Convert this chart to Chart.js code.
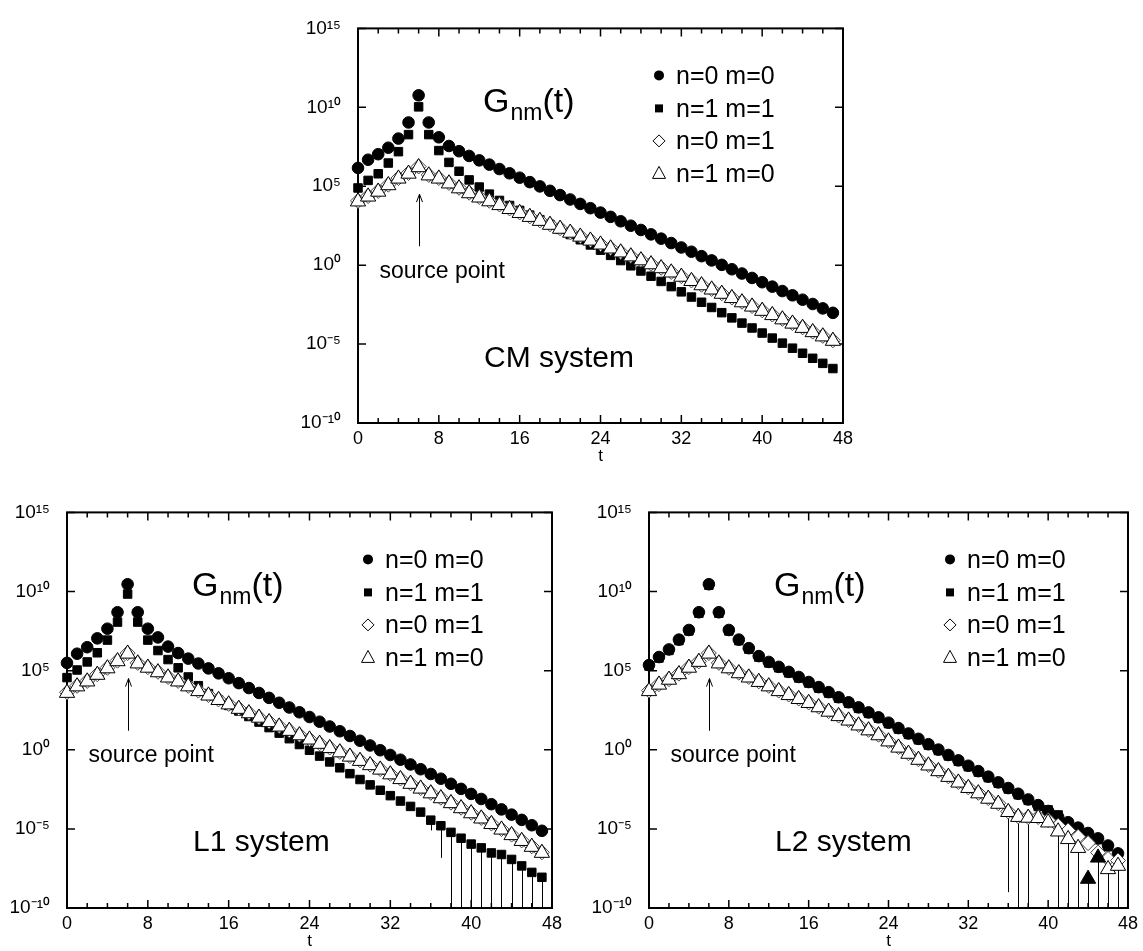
<!DOCTYPE html>
<html lang="en">
  <head>
    <meta charset="UTF-8" />
    <title>G_nm(t) in CM, L1 and L2 systems</title>
    <style>
      body {
        margin: 0;
        background: #fff;
        overflow: hidden;
      }
      #wrap {
        position: relative;
        width: 1143px;
        height: 951px;
      }
      canvas {
        position: absolute;
      }
    </style>
  </head>
  <body>
    <div id="wrap">
      <canvas id="cm" width="580" height="470" style="left: 288px; top: 0px"></canvas>
      <canvas id="l1" width="577" height="471" style="left: 0px; top: 484px"></canvas>
      <canvas id="l2" width="564" height="471" style="left: 579px; top: 484px"></canvas>
    </div>

    <script src="https://cdn.jsdelivr.net/npm/chart.js"></script>
    <script>
      // time slices
      const t = [
        0, 1, 2, 3, 4, 5, 6, 7, 8, 9, 10, 11, 12, 13, 14, 15, 16, 17, 18, 19, 20, 21, 22, 23,
        24, 25, 26, 27, 28, 29, 30, 31, 32, 33, 34, 35, 36, 37, 38, 39, 40, 41, 42, 43, 44, 45, 46, 47,
      ];
      const xLabelled = [0, 8, 16, 24, 32, 40, 48];
      const yTicks = [-10, -5, 0, 5, 10, 15];
      const yTickLabels = ["10⁻¹⁰", "10⁻⁵", "10⁰", "10⁵", "10¹⁰", "10¹⁵"];
      const seriesLabels = ["n=0 m=0", "n=1 m=1", "n=0 m=1", "n=1 m=0"];

      // all values are log10 G_nm(t)

      // CM system
      const cm00 = [
        6.16, 6.68, 7.03, 7.44, 8.02, 9.04, 10.76, 9.04, 8.1, 7.55, 7.22, 6.92,
        6.64, 6.37, 6.09, 5.82, 5.54, 5.26, 4.99, 4.71, 4.44, 4.16,
        3.88, 3.61, 3.33, 3.06, 2.78, 2.5, 2.23, 1.95, 1.68, 1.4,
        1.12, 0.85, 0.57, 0.3, 0.02, -0.26, -0.53, -0.81, -1.08, -1.36,
        -1.64, -1.91, -2.19, -2.46, -2.74, -3.02,
      ];
      const cm11 = [
        4.89, 5.37, 5.79, 6.47, 7.19, 8.27, 10.03, 8.27, 7.26, 6.51,
        5.95, 5.4, 4.95, 4.5, 4.1, 3.78, 3.47, 3.17, 2.88, 2.58,
        2.27, 1.94, 1.61, 1.28, 0.95, 0.62, 0.29, -0.04, -0.37, -0.7,
        -1.03, -1.36, -1.69, -2.02, -2.35, -2.68, -3.01, -3.34, -3.67, -3.98,
        -4.3, -4.62, -4.94, -5.26, -5.58, -5.9, -6.22, -6.55,
      ];
      const cm01 = [
        4.07, 4.38, 4.7, 5.1, 5.52, 5.84, 6.25, 5.72, 5.52, 5.21, 4.9, 4.59,
        4.32, 4.08, 3.84, 3.59, 3.34, 3.09, 2.84, 2.59, 2.34, 2.09,
        1.84, 1.59, 1.34, 1.09, 0.84, 0.59, 0.34, 0.09, -0.16, -0.43,
        -0.7, -0.97, -1.24, -1.51, -1.78, -2.05, -2.32, -2.59, -2.86, -3.13,
        -3.4, -3.67, -3.94, -4.21, -4.48, -4.76,
      ];
      const cm10 = [
        4.03, 4.34, 4.65, 5.06, 5.48, 5.79, 6.2, 5.68, 5.48, 5.17, 4.86, 4.55,
        4.28, 4.04, 3.8, 3.55, 3.3, 3.05, 2.8, 2.55, 2.3, 2.05,
        1.8, 1.55, 1.3, 1.05, 0.8, 0.55, 0.3, 0.05, -0.2, -0.47,
        -0.74, -1.01, -1.28, -1.55, -1.82, -2.09, -2.36, -2.63, -2.9, -3.17,
        -3.44, -3.71, -3.98, -4.25, -4.52, -4.8,
      ];

      // L1 system
      const l100 = [
        5.49, 6.07, 6.48, 7.04, 7.65, 8.69, 10.46, 8.69, 7.65, 7.1, 6.52, 6.11, 5.76,
        5.45, 5.14, 4.83, 4.52, 4.21, 3.9, 3.59, 3.28, 2.97, 2.67,
        2.37, 2.07, 1.77, 1.47, 1.17, 0.87, 0.57, 0.27, -0.03, -0.33,
        -0.63, -0.93, -1.23, -1.53, -1.83, -2.15, -2.47, -2.79, -3.11, -3.44,
        -3.77, -4.1, -4.43, -4.77, -5.12,
      ];
      const l111 = [
        4.56, 5.04, 5.55, 6.13, 6.93, 8.07, 9.84, 8.07, 6.93, 6.27, 5.7, 5.18,
        4.6, 4.05, 3.55, 3.15, 2.8, 2.45, 2.1, 1.75, 1.4, 1.05,
        0.7, 0.33, -0.03, -0.4, -0.77, -1.14, -1.51, -1.88, -2.22, -2.56,
        -2.9, -3.24, -3.58, -3.94, -4.45, -4.8, -5.22, -5.59, -5.96, -6.2,
        -6.52, -6.62, -6.93, -7.34, -7.75, -8.06,
      ];
      const l101 = [
        3.63, 4.04, 4.35, 4.77, 5.18, 5.63, 6.11, 5.49, 5.22, 4.93, 4.6, 4.35, 4.04,
        3.74, 3.46, 3.18, 2.9, 2.62, 2.34, 2.06, 1.78, 1.5, 1.23,
        0.95, 0.68, 0.41, 0.14, -0.13, -0.4, -0.67, -0.94, -1.22, -1.52,
        -1.82, -2.12, -2.42, -2.72, -3.03, -3.34, -3.66, -3.98, -4.31, -4.66,
        -5.01, -5.36, -5.73, -6.1, -6.48,
      ];
      const l110 = [
        3.59, 4.0, 4.31, 4.73, 5.14, 5.59, 6.07, 5.45, 5.18, 4.89, 4.56, 4.31, 4.0,
        3.7, 3.42, 3.14, 2.86, 2.58, 2.3, 2.02, 1.74, 1.46, 1.19,
        0.91, 0.64, 0.37, 0.1, -0.17, -0.44, -0.71, -0.98, -1.26, -1.56,
        -1.86, -2.16, -2.46, -2.76, -3.07, -3.38, -3.7, -4.02, -4.35, -4.7,
        -5.05, -5.4, -5.77, -6.14, -6.52,
      ];
      // lower ends of the n=1 m=1 error bars (-Infinity: the bar passes zero)
      const l1ErrT = [36, 37, 38, 39, 40, 41, 42, 43, 44, 45, 46, 47];
      const l1ErrLo = [-5.1, -6.83, -Infinity, -Infinity, -Infinity, -Infinity,
        -Infinity, -Infinity, -Infinity, -Infinity, -Infinity, -Infinity];

      // L2 system
      const l200 = [
        5.35, 5.86, 6.34, 6.96, 7.57, 8.69, 10.46, 8.69, 7.57, 6.96, 6.42, 5.92, 5.55, 5.24,
        4.92, 4.6, 4.28, 3.96, 3.64, 3.32, 3.0, 2.68, 2.36, 2.05,
        1.71, 1.37, 1.03, 0.69, 0.35, 0.01, -0.33, -0.67, -1.01, -1.35,
        -1.7, -2.06, -2.42, -2.78, -3.14, -3.5, -3.87, -4.24, -4.58, -4.92,
        -5.26, -5.6, -6.05, -6.55,
      ];
      const l211 = [
        5.29, 5.8, 6.28, 6.9, 7.51, 8.63, 10.4, 8.63, 7.51, 6.9, 6.36, 5.86, 5.49, 5.18,
        4.86, 4.54, 4.22, 3.9, 3.58, 3.26, 2.94, 2.62, 2.3, 1.99,
        1.65, 1.31, 0.97, 0.63, 0.29, -0.05, -0.39, -0.73, -1.07, -1.41,
        -1.76, -2.12, -2.48, -2.84, -3.2, -3.58, -3.8, -4.12, -4.62, -4.98,
        -5.33, -5.68, -6.12, -6.63,
      ];
      const l201 = [
        3.74, 4.15, 4.46, 4.81, 5.22, 5.59, 6.11, 5.49, 5.18, 4.87, 4.6, 4.32, 4.04, 3.74,
        3.49, 3.24, 2.99, 2.72, 2.44, 2.16, 1.88, 1.57, 1.26, 0.95,
        0.56, 0.17, -0.22, -0.6, -0.96, -1.32, -1.68, -2.04, -2.38, -2.72,
        -3.06, -3.38, -3.9, -4.21, -4.26, -4.25, -4.45, -4.8, -5.1, -5.5,
        -5.9, -6.5, -6.9, -7.0,
      ];
      const l210 = [
        3.7, 4.11, 4.42, 4.77, 5.18, 5.55, 6.07, 5.45, 5.14, 4.83, 4.56, 4.28, 4.0, 3.7,
        3.45, 3.2, 2.95, 2.68, 2.4, 2.12, 1.84, 1.53, 1.22, 0.91,
        0.52, 0.13, -0.26, -0.64, -1.0, -1.36, -1.72, -2.08, -2.42, -2.76,
        -3.1, -3.42, -3.94, -4.25, -4.3, -4.32, -4.6, -5.17, -5.65, -6.21,
        null, null, -7.55, -7.34,
      ];
      // n=1 m=0 points with negative sign (filled triangles)
      const l2NegT = [44, 45];
      const l2NegV = [-8.16, -6.82];
      const l2ErrT = [36, 37, 38, 41, 42, 43, 44, 45, 46, 47];
      const l2ErrLo = [-9.0, -Infinity, -Infinity, -Infinity, -Infinity,
        -Infinity, -Infinity, -Infinity, -Infinity, -Infinity];

      const FONT = '"Liberation Sans", Arial, Helvetica, sans-serif';

      function pts(vals) {
        return t.map((x, i) => ({ x: x, y: vals[i] })).filter((p) => p.y !== null);
      }

      function markerY(chart, idxs, tt) {
        for (const k of idxs) {
          const p = chart.data.datasets[k].data.find((d) => d.x === tt);
          if (p) return p.y;
        }
        return null;
      }

      function drawLegendMarker(ctx, i, x, y) {
        ctx.beginPath();
        if (i === 0) {
          ctx.arc(x, y, 5, 0, Math.PI * 2);
          ctx.fill();
        } else if (i === 1) {
          ctx.fillRect(x - 4, y - 4, 8, 8);
        } else if (i === 2) {
          ctx.moveTo(x, y - 6);
          ctx.lineTo(x + 6, y);
          ctx.lineTo(x, y + 6);
          ctx.lineTo(x - 6, y);
          ctx.closePath();
          ctx.stroke();
        } else {
          ctx.moveTo(x, y - 7);
          ctx.lineTo(x + 6.5, y + 5);
          ctx.lineTo(x - 6.5, y + 5);
          ctx.closePath();
          ctx.stroke();
        }
      }

      const decor = {
        id: "decor",
        beforeDatasetsDraw(chart, args, o) {
          const { ctx, chartArea: a } = chart;
          const x = chart.scales.x;
          const y = chart.scales.y;
          ctx.save();
          // frame
          ctx.strokeStyle = "#000";
          ctx.lineWidth = 2;
          ctx.strokeRect(a.left, a.top, a.right - a.left, a.bottom - a.top);
          // inward ticks on all four sides
          ctx.lineWidth = 1.5;
          ctx.beginPath();
          x.ticks.forEach((tk) => {
            const px = x.getPixelForValue(tk.value);
            const len = xLabelled.includes(tk.value) ? 8 : 5;
            ctx.moveTo(px, a.bottom);
            ctx.lineTo(px, a.bottom - len);
            ctx.moveTo(px, a.top);
            ctx.lineTo(px, a.top + len);
          });
          y.ticks.forEach((tk) => {
            const py = y.getPixelForValue(tk.value);
            ctx.moveTo(a.left, py);
            ctx.lineTo(a.left + 8, py);
            ctx.moveTo(a.right, py);
            ctx.lineTo(a.right - 8, py);
          });
          ctx.stroke();
          // error bars
          ctx.lineWidth = 1;
          ctx.beginPath();
          (o.errT || []).forEach((tt, i) => {
            const top = markerY(chart, o.errOn, tt);
            if (top === null) return;
            const px = Math.round(x.getPixelForValue(tt)) + 0.5;
            const lo = o.errLo[i];
            const yb = isFinite(lo) ? Math.min(y.getPixelForValue(lo), a.bottom) : a.bottom;
            ctx.moveTo(px, y.getPixelForValue(top));
            ctx.lineTo(px, yb);
          });
          ctx.stroke();
          ctx.restore();
        },
        afterDatasetsDraw(chart, args, o) {
          const { ctx, chartArea: a } = chart;
          const x = chart.scales.x;
          const y = chart.scales.y;
          ctx.save();
          ctx.fillStyle = "#000";
          ctx.strokeStyle = "#000";
          ctx.textBaseline = "alphabetic";

          // G_nm(t)
          let gx = a.left + 125;
          const gy = a.top + 84;
          ctx.font = "34px " + FONT;
          ctx.fillText("G", gx, gy);
          gx += ctx.measureText("G").width + 1;
          ctx.font = "23px " + FONT;
          ctx.fillText("nm", gx, gy + 8);
          gx += ctx.measureText("nm").width;
          ctx.font = "34px " + FONT;
          ctx.fillText("(t)", gx, gy);

          // legend
          ctx.font = "25px " + FONT;
          ctx.lineWidth = 1;
          const rows = [47, 80, 112.5, 145];
          seriesLabels.forEach((lab, i) => {
            const cy = a.top + rows[i];
            drawLegendMarker(ctx, i, a.left + 301, cy);
            ctx.fillText(lab, a.left + 318, cy + 8.5);
          });

          // source point arrow
          const ax = Math.round(x.getPixelForValue(6)) + 0.5;
          const tip = y.getPixelForValue(4.5);
          ctx.beginPath();
          ctx.moveTo(ax, y.getPixelForValue(1.2));
          ctx.lineTo(ax, tip);
          ctx.moveTo(ax - 3, tip + 8);
          ctx.lineTo(ax, tip);
          ctx.lineTo(ax + 3, tip + 8);
          ctx.stroke();
          ctx.font = "23px " + FONT;
          ctx.fillText("source point", a.left + 21.5, a.top + 250);

          // system name
          ctx.font = "30px " + FONT;
          ctx.fillText(o.name, a.left + 126, a.top + 339);
          ctx.restore();
        },
      };

      function makePanel(id, p) {
        const datasets = [
          {
            label: seriesLabels[1],
            data: pts(p.s11),
            pointStyle: "rect",
            pointRadius: 6,
            backgroundColor: "#000",
            borderColor: "#000",
            borderWidth: 1,
            order: 5,
          },
          {
            label: seriesLabels[0],
            data: pts(p.s00),
            pointStyle: "circle",
            pointRadius: 5.8,
            backgroundColor: "#000",
            borderColor: "#000",
            borderWidth: 1,
            order: 4,
          },
          {
            label: seriesLabels[2],
            data: pts(p.s01),
            pointStyle: "rectRot",
            pointRadius: 7.5,
            backgroundColor: "#fff",
            borderColor: "#444",
            borderWidth: 1,
            order: 3,
          },
          {
            label: seriesLabels[3],
            data: pts(p.s10),
            pointStyle: "triangle",
            pointRadius: 8.8,
            backgroundColor: "#fff",
            borderColor: "#000",
            borderWidth: 1,
            order: 2,
          },
        ];
        if (p.negT) {
          datasets.push({
            label: seriesLabels[3] + " (negative)",
            data: p.negT.map((x, i) => ({ x: x, y: p.negV[i] })),
            pointStyle: "triangle",
            pointRadius: 8.8,
            backgroundColor: "#000",
            borderColor: "#000",
            borderWidth: 1,
            order: 1,
          });
        }
        datasets.forEach((d) => (d.clip = false));

        new Chart(document.getElementById(id), {
          type: "scatter",
          data: { datasets: datasets },
          options: {
            responsive: false,
            animation: false,
            events: [],
            layout: { padding: { top: 20, right: p.padR, left: 0, bottom: 0 } },
            plugins: {
              legend: { display: false },
              tooltip: { enabled: false },
              decor: { name: p.name, errT: p.errT, errLo: p.errLo, errOn: p.errOn },
            },
            scales: {
              x: {
                type: "linear",
                min: 0,
                max: 48,
                grid: { display: false, drawTicks: false },
                border: { display: false },
                ticks: {
                  stepSize: 2,
                  autoSkip: false,
                  maxRotation: 0,
                  minRotation: 0,
                  padding: 5,
                  color: "#000",
                  font: { family: FONT, size: 18 },
                  callback: (v) => (xLabelled.includes(v) ? String(v) : ""),
                },
                title: {
                  display: true,
                  text: "t",
                  color: "#000",
                  font: { family: FONT, size: 17 },
                  padding: { top: 0, bottom: 3 },
                },
                afterFit: (s) => {
                  s.height = 47;
                },
              },
              y: {
                type: "linear",
                min: -10,
                max: 15,
                grid: { display: false, drawTicks: false },
                border: { display: false },
                ticks: {
                  stepSize: 5,
                  padding: 17,
                  color: "#000",
                  font: { family: FONT, size: 19 },
                  callback: (v) => yTickLabels[yTicks.indexOf(v)],
                },
                afterFit: (s) => {
                  s.width = p.yW;
                },
              },
            },
          },
          plugins: [decor],
        });
      }

      makePanel("cm", { name: "CM system", yW: 70, padR: 25, s00: cm00, s11: cm11, s01: cm01, s10: cm10 });
      makePanel("l1", {
        name: "L1 system", yW: 67, padR: 25, s00: l100, s11: l111, s01: l101, s10: l110,
        errT: l1ErrT, errLo: l1ErrLo, errOn: [0],
      });
      makePanel("l2", {
        name: "L2 system", yW: 70, padR: 10, s00: l200, s11: l211, s01: l201, s10: l210,
        negT: l2NegT, negV: l2NegV, errT: l2ErrT, errLo: l2ErrLo, errOn: [3, 4],
      });
    </script>
  </body>
</html>
